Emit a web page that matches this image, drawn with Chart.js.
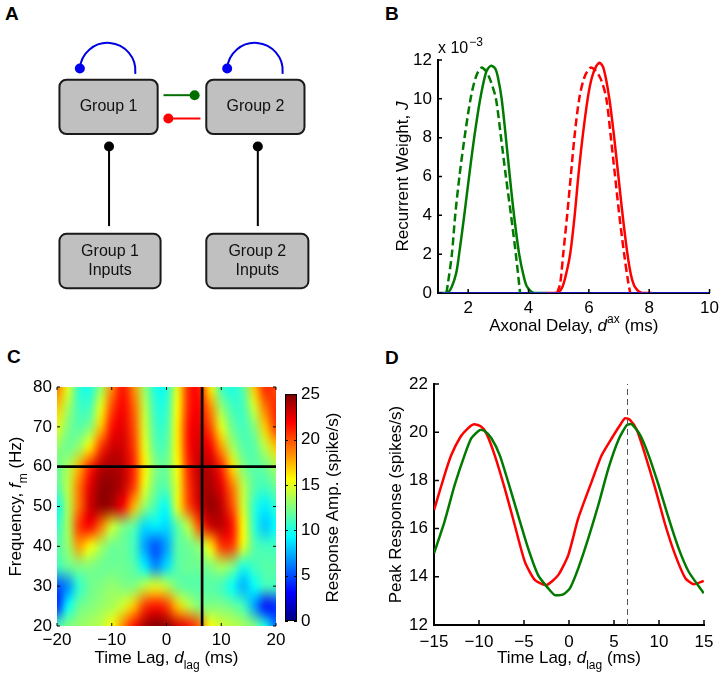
<!DOCTYPE html>
<html>
<head>
<meta charset="utf-8">
<script src="https://cdn.jsdelivr.net/npm/chart.js@4.4.1/dist/chart.umd.min.js"></script>
<style>
body { margin: 0; background: #fff; width: 724px; height: 682px; position: relative; overflow: hidden; font-family: "Liberation Sans", Arial, sans-serif; }
canvas { position: absolute; }
.huruf { position: absolute; font-weight: bold; font-size: 19px; line-height: 19px; }
</style>
</head>
<body>
<div class="huruf" style="left:5px;top:4px">A</div>
<div class="huruf" style="left:385px;top:4px">B</div>
<div class="huruf" style="left:7px;top:347px">C</div>
<div class="huruf" style="left:385px;top:348px">D</div>

<canvas id="cA" width="362" height="330" style="left:0;top:0"></canvas>
<canvas id="cB" width="362" height="340" style="left:362px;top:0"></canvas>
<canvas id="cC" width="290" height="342" style="left:0;top:340px"></canvas>
<canvas id="cBar" width="80" height="260" style="left:280px;top:380px"></canvas>
<canvas id="cD" width="362" height="342" style="left:362px;top:340px"></canvas>

<script>
// --- DATA PANEL A (diagram) ---
var boxNames = [['Group 1'], ['Group 2'], ['Group 1', 'Inputs'], ['Group 2', 'Inputs']];
var boxLeft = [56, 207, 56, 207];
var boxTop = [77, 77, 236, 236];
var boxWidth = [101, 101, 104, 105];
var boxHeight = [56, 56, 56, 56];
// self loops (blue): centre and radius
var loopCx = [105.5, 257];
var loopCy = [67.7, 67.7];
var loopR = [28.6, 28.6];
// links: from (x1,y1) to (x2,y2), dot at end
var linkX1 = [163, 201, 107, 260];
var linkY1 = [93, 117, 228, 228];
var linkX2 = [195, 168, 107, 260];
var linkY2 = [93, 117, 146, 146];
var linkColor = ['#006f00', '#ff0000', '#000000', '#000000'];

// --- DATA PANEL B (recurrent weight, x 10^-3) ---
var bTicksX = [2, 4, 6, 8, 10];
var bTicksY = [0, 2, 4, 6, 8, 10, 12];
var greenSolidX = [1.0, 1.3, 1.45, 1.6, 1.7, 1.87, 2.03, 2.2, 2.4, 2.6, 2.75, 2.9, 3.0, 3.11, 3.25, 3.38, 3.52, 3.69, 3.85, 3.96, 4.17, 4.6];
var greenSolidY = [0, 0, 0.3, 1.0, 2, 4, 6, 8, 10, 11.4, 11.7, 11.55, 11.0, 10, 8, 6, 4, 2, 0.8, 0.3, 0, 0];
var greenDashX = [1.28, 1.33, 1.46, 1.57, 1.71, 1.88, 2.08, 2.25, 2.43, 2.6, 2.75, 2.92, 3.09, 3.25, 3.42, 3.58, 3.72];
var greenDashY = [0, 0.5, 2, 4, 6, 8, 10, 11.1, 11.6, 11.4, 10.9, 10, 8, 6, 4, 2, 0];
var redSolidX = [4.6, 4.95, 5.12, 5.25, 5.38, 5.53, 5.65, 5.79, 5.96, 6.1, 6.25, 6.36, 6.5, 6.68, 6.84, 6.98, 7.12, 7.28, 7.4, 7.53, 7.75, 8.1];
var redSolidY = [0, 0, 0.3, 1, 2, 4, 6, 8, 10, 11.1, 11.7, 11.85, 11.5, 10, 8, 6, 4, 2, 0.9, 0.3, 0, 0];
var redDashX = [4.95, 5.05, 5.15, 5.28, 5.40, 5.52, 5.68, 5.85, 6.05, 6.2, 6.4, 6.58, 6.73, 6.87, 7.01, 7.17, 7.3, 7.37];
var redDashY = [0, 0.5, 2, 4, 6, 8, 10, 11.1, 11.6, 11.5, 11, 10, 8, 6, 4, 2, 0.6, 0];
var blueBaseX = [1, 10];
var blueBaseY = [0, 0];

// --- DATA PANEL C (response amplitude, spike/s) ---
var cTicksX = [-20, -10, 0, 10, 20];
var cTicksY = [20, 30, 40, 50, 60, 70, 80];
var barTicks = [0, 5, 10, 15, 20, 25];
var ampMax = 25;
var lagGrid = [-20, -18, -16, -14, -12, -10, -8, -6, -4, -2, 0, 2, 4, 6, 8, 10, 12, 14, 16, 18, 20];
var freqGrid = [80, 75, 70, 65, 60, 55, 50, 45, 40, 35, 30, 25, 20];
var amp80 = [19, 15, 10.5, 10, 13, 18.5, 21.5, 18.5, 13, 10, 10, 15, 21, 21.5, 16, 11, 10, 11.5, 17, 21, 20];
var amp75 = [17, 13.5, 11, 11, 15, 20, 22, 19.5, 14, 10.5, 10.5, 15.5, 21, 22, 18.5, 13, 11, 11, 14.5, 19, 21];
var amp70 = [15, 12.5, 11.5, 12.5, 17, 21.5, 22.5, 20, 14.5, 11, 11, 16, 21.5, 22.5, 20, 15, 12, 11, 12.5, 17, 20.5];
var amp65 = [13, 12, 13, 16, 20.5, 23, 23, 20.5, 15, 11.5, 11.5, 16, 21.5, 23, 22, 18, 13.5, 11.5, 11.5, 14, 17];
var amp60 = [12, 13.5, 17.5, 21, 23.5, 24, 23.5, 21, 16, 12.5, 12, 15.5, 21, 23.5, 23.5, 21, 16.5, 12.5, 11.5, 12, 13.5];
var amp55 = [11.5, 14, 19, 22.5, 24.5, 24.5, 23.5, 20.5, 15, 12, 11.5, 15, 20.5, 23.5, 24, 22.5, 19, 14, 11.5, 11, 12];
var amp50 = [9.5, 13.5, 19, 23, 24.5, 24, 22, 17.5, 13, 11, 9.5, 15, 20, 23, 24.5, 23.5, 20, 14.5, 10.5, 9, 10.5];
var amp45 = [10.5, 13.5, 20.5, 22, 19, 14.5, 12.5, 11.5, 8.5, 9, 8.5, 11.5, 14, 20, 23, 23.5, 21.5, 15.5, 10.5, 8, 9.5];
var amp40 = [11.5, 13, 18, 15.5, 13.5, 12, 12, 11, 7, 5, 7, 11.5, 12, 13, 16, 20.5, 20.5, 15, 11.5, 11, 11];
var amp35 = [11, 12, 12.5, 12.5, 12, 12, 12, 11.5, 9, 6.5, 8.5, 11.5, 12, 12, 12.5, 13.5, 12.5, 10, 11, 11.5, 11.5];
var amp30 = [5, 6.5, 10.5, 12, 12.5, 13, 12.5, 12.5, 14, 15, 14, 12, 11.5, 11.5, 11.5, 11, 9.5, 7.5, 9.5, 11, 11];
var amp25 = [4, 9.5, 12, 12.5, 13, 13.5, 14.5, 17, 20.5, 21.5, 20.5, 17, 14, 12.5, 12.5, 12.5, 12, 11, 7, 3.5, 4];
var amp20 = [11, 12.5, 13, 13.5, 14, 15.5, 18.5, 21.5, 24, 25, 24.5, 23, 21.5, 19.5, 15.5, 14.5, 14, 13.5, 12.5, 10, 6];
var respAmp = [amp80, amp75, amp70, amp65, amp60, amp55, amp50, amp45, amp40, amp35, amp30, amp25, amp20];
var crossLag = 6.5;
var crossFreq = 60;

// --- DATA PANEL D (peak response, spikes/s) ---
var dTicksX = [-15, -10, -5, 0, 5, 10, 15];
var dTicksY = [12, 14, 16, 18, 20, 22];
var redX = [-15, -13.83, -13.08, -12.05, -11.23, -10.56, -9.74, -9.18, -8.26, -7.14, -6.03, -4.91, -3.8, -2.49, -1.2, -0.08, 1.03, 2.52, 3.64, 4.75, 5.68, 6.24, 6.8, 7.54, 8.47, 9.58, 10.7, 11.81, 12.93, 13.85, 14.97];
var redY = [16.77, 18.22, 19.05, 19.81, 20.16, 20.33, 20.23, 19.95, 19.05, 17.67, 16.15, 14.63, 13.87, 13.66, 14.07, 14.9, 16.43, 17.95, 19.05, 19.75, 20.3, 20.58, 20.5, 20.09, 19.05, 17.67, 16.15, 14.9, 13.94, 13.69, 13.83];
var greenX = [-15, -13.83, -12.7, -11.6, -10.85, -9.93, -9.37, -8.62, -7.7, -6.77, -5.66, -4.54, -3.43, -2.31, -1.57, -0.64, 0.1, 1.03, 2.15, 3.26, 4.38, 5.49, 6.43, 6.98, 7.91, 8.84, 9.95, 11.07, 12.18, 13.3, 14.97];
var greenY = [14.97, 16.29, 17.81, 19.05, 19.75, 20.09, 20.05, 19.75, 19.05, 17.95, 16.56, 15.18, 14.07, 13.52, 13.24, 13.27, 13.52, 14.35, 15.6, 16.98, 18.5, 19.68, 20.3, 20.33, 19.88, 19.05, 17.81, 16.43, 15.18, 14.21, 13.32];
var markLag = 6.5;

// --- PENGATURAN UMUM ---
var FONT = '"Liberation Sans", Arial, sans-serif';
Chart.defaults.font.family = FONT;
Chart.defaults.font.size = 17;
Chart.defaults.color = '#000';
Chart.defaults.animation = false;
Chart.defaults.responsive = false;
Chart.defaults.devicePixelRatio = 1;
Chart.defaults.events = [];
Chart.defaults.plugins.legend.display = false;
Chart.defaults.plugins.tooltip.enabled = false;

var HIJAU = '#007a00';
var MERAH = '#ff0000';

function titik(xs, ys) {
    return xs.map(function(x, i) { return { x: x, y: ys[i] }; });
}

function pakaiTicks(values) {
    return function(scale) {
        scale.ticks = values.map(function(v) { return { value: v }; });
    };
}

function formatMinus(v) {
    return String(v).replace('-', '\u2212');
}

// colormap jet (MATLAB)
function jet(t) {
    t = Math.max(0, Math.min(1, t));
    function c(v) { return Math.max(0, Math.min(1, v)); }
    return [
        Math.round(255 * c(1.5 - Math.abs(4 * t - 3))),
        Math.round(255 * c(1.5 - Math.abs(4 * t - 2))),
        Math.round(255 * c(1.5 - Math.abs(4 * t - 1)))
    ];
}

// teks dengan italic / subscript / superscript
function tulisTeks(ctx, parts, cx, cy, size, rot) {
    ctx.save();
    ctx.translate(cx, cy);
    if (rot) ctx.rotate(rot);
    ctx.fillStyle = '#000';
    ctx.textBaseline = 'alphabetic';
    ctx.textAlign = 'left';
    var spans = parts.map(function(p) {
        var kecil = p.s === 'sub' || p.s === 'sup';
        var font = (p.i ? 'italic ' : '') + (kecil ? Math.round(size * 0.72) : size) + 'px ' + FONT;
        ctx.font = font;
        return {
            t: p.t, font: font, w: ctx.measureText(p.t).width,
            dy: p.s === 'sub' ? size * 0.32 : (p.s === 'sup' ? -size * 0.45 : 0)
        };
    });
    var total = spans.reduce(function(s, p) { return s + p.w; }, 0);
    var x = -total / 2;
    var base = size * 0.36;
    spans.forEach(function(sp) {
        ctx.font = sp.font;
        ctx.fillText(sp.t, x, base + sp.dy);
        x += sp.w;
    });
    ctx.restore();
}

// tick ke dalam (gaya MATLAB)
var tickDalam = {
    id: 'tickDalam',
    afterDraw: function(chart, args, opts) {
        var ctx = chart.ctx, a = chart.chartArea, L = opts.len || 5;
        var sx = chart.scales.x, sy = chart.scales.y;
        ctx.save();
        ctx.strokeStyle = '#000';
        ctx.lineWidth = opts.width || 1.5;
        ctx.beginPath();
        sx.ticks.forEach(function(t) {
            var p = sx.getPixelForValue(t.value);
            ctx.moveTo(p, a.bottom); ctx.lineTo(p, a.bottom - L);
            if (opts.box) { ctx.moveTo(p, a.top); ctx.lineTo(p, a.top + L); }
        });
        sy.ticks.forEach(function(t) {
            var p = sy.getPixelForValue(t.value);
            ctx.moveTo(a.left, p); ctx.lineTo(a.left + L, p);
            if (opts.box) { ctx.moveTo(a.right, p); ctx.lineTo(a.right - L, p); }
        });
        ctx.stroke();
        ctx.restore();
    }
};

function judulPlugin(fn) {
    return { id: 'judul', afterDraw: function(chart) { fn(chart.ctx, chart.chartArea); } };
}

function sumbu(min, max, ticks, fit, pad, extra) {
    var o = {
        type: 'linear', min: min, max: max,
        afterBuildTicks: pakaiTicks(ticks),
        afterFit: fit,
        grid: { display: false, drawTicks: false },
        border: { display: true, color: '#000', width: 2 },
        ticks: { padding: pad, autoSkip: false, maxRotation: 0, callback: formatMinus }
    };
    for (var k in extra) o[k] = extra[k];
    return o;
}

// --- PANEL A ---
var diagram = {
    id: 'diagram',
    afterDatasetsDraw: function(chart) {
        var ctx = chart.ctx, sx = chart.scales.x, sy = chart.scales.y;
        ctx.save();
        // loops
        ctx.strokeStyle = '#0000e0';
        ctx.fillStyle = '#0000f0';
        ctx.lineWidth = 2;
        for (var k = 0; k < loopCx.length; k++) {
            var cx = sx.getPixelForValue(loopCx[k]), cy = sy.getPixelForValue(loopCy[k]);
            var r = sx.getPixelForValue(loopCx[k] + loopR[k]) - cx;
            ctx.beginPath();
            ctx.arc(cx, cy, r, -Math.PI + 0.08, 0.12);
            ctx.stroke();
            ctx.beginPath();
            ctx.arc(cx + r * Math.cos(-Math.PI + 0.08), cy + r * Math.sin(-Math.PI + 0.08), 5, 0, 2 * Math.PI);
            ctx.fill();
        }
        // boxes
        for (var i = 0; i < boxNames.length; i++) {
            var x0 = sx.getPixelForValue(boxLeft[i]), y0 = sy.getPixelForValue(boxTop[i]);
            var x1 = sx.getPixelForValue(boxLeft[i] + boxWidth[i]), y1 = sy.getPixelForValue(boxTop[i] + boxHeight[i]);
            ctx.beginPath();
            ctx.roundRect(x0, y0, x1 - x0, y1 - y0, 7);
            ctx.fillStyle = '#c0c0c0';
            ctx.fill();
            ctx.lineWidth = 2;
            ctx.strokeStyle = '#1a1a1a';
            ctx.stroke();
            ctx.fillStyle = '#111';
            ctx.font = '16px ' + FONT;
            ctx.textAlign = 'center';
            ctx.textBaseline = 'middle';
            var n = boxNames[i].length;
            boxNames[i].forEach(function(t, j) {
                ctx.fillText(t, (x0 + x1) / 2, (y0 + y1) / 2 + (j - (n - 1) / 2) * 19);
            });
        }
        ctx.restore();
    }
};

new Chart(document.getElementById('cA'), {
    type: 'scatter',
    data: {
        datasets: linkX1.map(function(x, i) {
            return {
                data: [{ x: linkX1[i], y: linkY1[i] }, { x: linkX2[i], y: linkY2[i] }],
                showLine: true,
                borderColor: linkColor[i],
                backgroundColor: linkColor[i],
                borderWidth: 2,
                pointRadius: [0, 5],
                pointBorderWidth: 0,
                clip: false
            };
        })
    },
    options: {
        layout: { padding: 0 },
        scales: {
            x: { type: 'linear', display: false, min: 0, max: 362 },
            y: { type: 'linear', display: false, min: 0, max: 330, reverse: true }
        }
    },
    plugins: [diagram]
});

// --- PANEL B ---
function garisB(xs, ys, warna, putus, lebar) {
    return {
        data: titik(xs, ys), borderColor: warna, borderWidth: lebar || 2.5,
        borderDash: putus ? [8, 4] : [], pointRadius: 0, tension: 0.3, fill: false
    };
}

new Chart(document.getElementById('cB'), {
    type: 'line',
    data: {
        datasets: [
            garisB(blueBaseX, blueBaseY, '#2020ff', false, 1.5),
            garisB(greenSolidX, greenSolidY, HIJAU, false),
            garisB(greenDashX, greenDashY, HIJAU, true),
            garisB(redSolidX, redSolidY, MERAH, false),
            garisB(redDashX, redDashY, MERAH, true)
        ]
    },
    options: {
        layout: { padding: { top: 60, right: 14, left: 0, bottom: 0 } },
        scales: {
            x: sumbu(1, 10, bTicksX, function(s) { s.height = 47; }, 5),
            y: sumbu(0, 12, bTicksY, function(s) { s.width = 76; }, 6)
        },
        plugins: { tickDalam: { len: 4 } }
    },
    plugins: [tickDalam, judulPlugin(function(ctx, a) {
        tulisTeks(ctx, [{ t: 'Axonal Delay, ' }, { t: 'd', i: true }, { t: 'ax', s: 'sup' }, { t: ' (ms)' }], (a.left + a.right) / 2, a.bottom + 32, 17);
        tulisTeks(ctx, [{ t: 'Recurrent Weight, ' }, { t: 'J', i: true }], 40, (a.top + a.bottom) / 2, 17, -Math.PI / 2);
        ctx.save();
        ctx.fillStyle = '#000';
        ctx.font = '16px ' + FONT;
        ctx.textBaseline = 'alphabetic';
        ctx.fillText('x 10', a.left, a.top - 7);
        var w = ctx.measureText('x 10').width;
        ctx.font = '12px ' + FONT;
        ctx.fillText('\u22123', a.left + w + 1, a.top - 14);
        ctx.restore();
    })]
});

// --- PANEL C ---
var heatmap = {
    id: 'heatmap',
    beforeDatasetsDraw: function(chart) {
        var sx = chart.scales.x, sy = chart.scales.y, a = chart.chartArea, ctx = chart.ctx;
        var nx = lagGrid.length, ny = freqGrid.length;
        var off = document.createElement('canvas');
        off.width = nx; off.height = ny;
        var octx = off.getContext('2d');
        var img = octx.createImageData(nx, ny);
        for (var j = 0; j < ny; j++) {
            for (var i = 0; i < nx; i++) {
                var c = jet(respAmp[j][i] / ampMax);
                var k = (j * nx + i) * 4;
                img.data[k] = c[0]; img.data[k + 1] = c[1]; img.data[k + 2] = c[2]; img.data[k + 3] = 255;
            }
        }
        octx.putImageData(img, 0, 0);
        var dx = (lagGrid[1] - lagGrid[0]) / 2, df = (freqGrid[0] - freqGrid[1]) / 2;
        var x0 = sx.getPixelForValue(lagGrid[0] - dx), x1 = sx.getPixelForValue(lagGrid[nx - 1] + dx);
        var y0 = sy.getPixelForValue(freqGrid[0] + df), y1 = sy.getPixelForValue(freqGrid[ny - 1] - df);
        ctx.save();
        ctx.beginPath();
        ctx.rect(a.left, a.top, a.right - a.left, a.bottom - a.top);
        ctx.clip();
        ctx.imageSmoothingEnabled = true;
        ctx.imageSmoothingQuality = 'high';
        ctx.drawImage(off, x0, y0, x1 - x0, y1 - y0);
        ctx.restore();
    }
};

var sumbuC = { border: { display: false } };
new Chart(document.getElementById('cC'), {
    type: 'scatter',
    data: {
        datasets: [
            { data: [{ x: cTicksX[0], y: crossFreq }, { x: cTicksX[cTicksX.length - 1], y: crossFreq }], showLine: true, borderColor: '#000', borderWidth: 2.7, pointRadius: 0 },
            { data: [{ x: crossLag, y: cTicksY[0] }, { x: crossLag, y: cTicksY[cTicksY.length - 1] }], showLine: true, borderColor: '#000', borderWidth: 2.7, pointRadius: 0 }
        ]
    },
    options: {
        layout: { padding: { top: 47, right: 14, left: 0, bottom: 0 } },
        scales: {
            x: sumbu(-20, 20, cTicksX, function(s) { s.height = 56; }, 4, sumbuC),
            y: sumbu(20, 80, cTicksY, function(s) { s.width = 57; }, 5, sumbuC)
        },
        plugins: { tickDalam: { len: 3, width: 1, box: true } }
    },
    plugins: [heatmap, tickDalam, judulPlugin(function(ctx, a) {
        tulisTeks(ctx, [{ t: 'Time Lag, ' }, { t: 'd', i: true }, { t: 'lag', s: 'sub' }, { t: ' (ms)' }], (a.left + a.right) / 2, a.bottom + 31, 17);
        tulisTeks(ctx, [{ t: 'Frequency, ' }, { t: 'f', i: true }, { t: 'm', s: 'sub' }, { t: ' (Hz)' }], 15, (a.top + a.bottom) / 2, 17, -Math.PI / 2);
    })]
});

// colorbar
var colorbar = {
    id: 'colorbar',
    beforeDatasetsDraw: function(chart) {
        var ctx = chart.ctx, a = chart.chartArea, sy = chart.scales.y;
        var yb = sy.getPixelForValue(barTicks[0]), yt = sy.getPixelForValue(ampMax);
        var g = ctx.createLinearGradient(0, yb, 0, yt);
        for (var s = 0; s <= 32; s++) {
            var c = jet(s / 32);
            g.addColorStop(s / 32, 'rgb(' + c[0] + ',' + c[1] + ',' + c[2] + ')');
        }
        ctx.save();
        ctx.fillStyle = g;
        ctx.fillRect(a.left, yt, a.right - a.left, yb - yt);
        ctx.strokeStyle = '#000';
        ctx.lineWidth = 1;
        ctx.strokeRect(a.left + 0.5, yt + 0.5, a.right - a.left - 1, yb - yt - 1);
        ctx.beginPath();
        sy.ticks.forEach(function(t) {
            var p = Math.round(sy.getPixelForValue(t.value)) + 0.5;
            ctx.moveTo(a.right, p); ctx.lineTo(a.right - 3, p);
            ctx.moveTo(a.left, p); ctx.lineTo(a.left + 3, p);
        });
        ctx.stroke();
        ctx.restore();
    }
};

new Chart(document.getElementById('cBar'), {
    type: 'scatter',
    data: { datasets: [] },
    options: {
        layout: { padding: { top: 12, right: 0, left: 5, bottom: 19 } },
        scales: {
            x: { type: 'linear', display: false, min: 0, max: 1 },
            y: {
                type: 'linear', position: 'right', min: 0, max: 25,
                afterBuildTicks: pakaiTicks(barTicks),
                afterFit: function(s) { s.width = 63; },
                grid: { display: false, drawTicks: false },
                border: { display: false },
                ticks: { padding: 4, autoSkip: false }
            }
        }
    },
    plugins: [colorbar, judulPlugin(function(ctx, a) {
        tulisTeks(ctx, [{ t: 'Response Amp. (spike/s)' }], 52, (a.top + a.bottom) / 2, 17, -Math.PI / 2);
    })]
});

// --- PANEL D ---
new Chart(document.getElementById('cD'), {
    type: 'line',
    data: {
        datasets: [
            { data: [{ x: markLag, y: dTicksY[0] }, { x: markLag, y: dTicksY[dTicksY.length - 1] }], borderColor: '#555', borderWidth: 1, borderDash: [6, 4], pointRadius: 0 },
            { data: titik(greenX, greenY), borderColor: HIJAU, borderWidth: 2.5, pointRadius: 0, tension: 0.2 },
            { data: titik(redX, redY), borderColor: MERAH, borderWidth: 2.5, pointRadius: 0, tension: 0.2 }
        ]
    },
    options: {
        layout: { padding: { top: 44, right: 20, left: 0, bottom: 0 } },
        scales: {
            x: sumbu(-15, 15, dTicksX, function(s) { s.height = 57; }, 7),
            y: sumbu(12, 22, dTicksY, function(s) { s.width = 72; }, 6)
        },
        plugins: { tickDalam: { len: 5 } }
    },
    plugins: [tickDalam, judulPlugin(function(ctx, a) {
        tulisTeks(ctx, [{ t: 'Time Lag, ' }, { t: 'd', i: true }, { t: 'lag', s: 'sub' }, { t: ' (ms)' }], (a.left + a.right) / 2, a.bottom + 32, 17);
        tulisTeks(ctx, [{ t: 'Peak Response (spikes/s)' }], 33, (a.top + a.bottom) / 2, 17, -Math.PI / 2);
    })]
});
</script>
</body>
</html>
